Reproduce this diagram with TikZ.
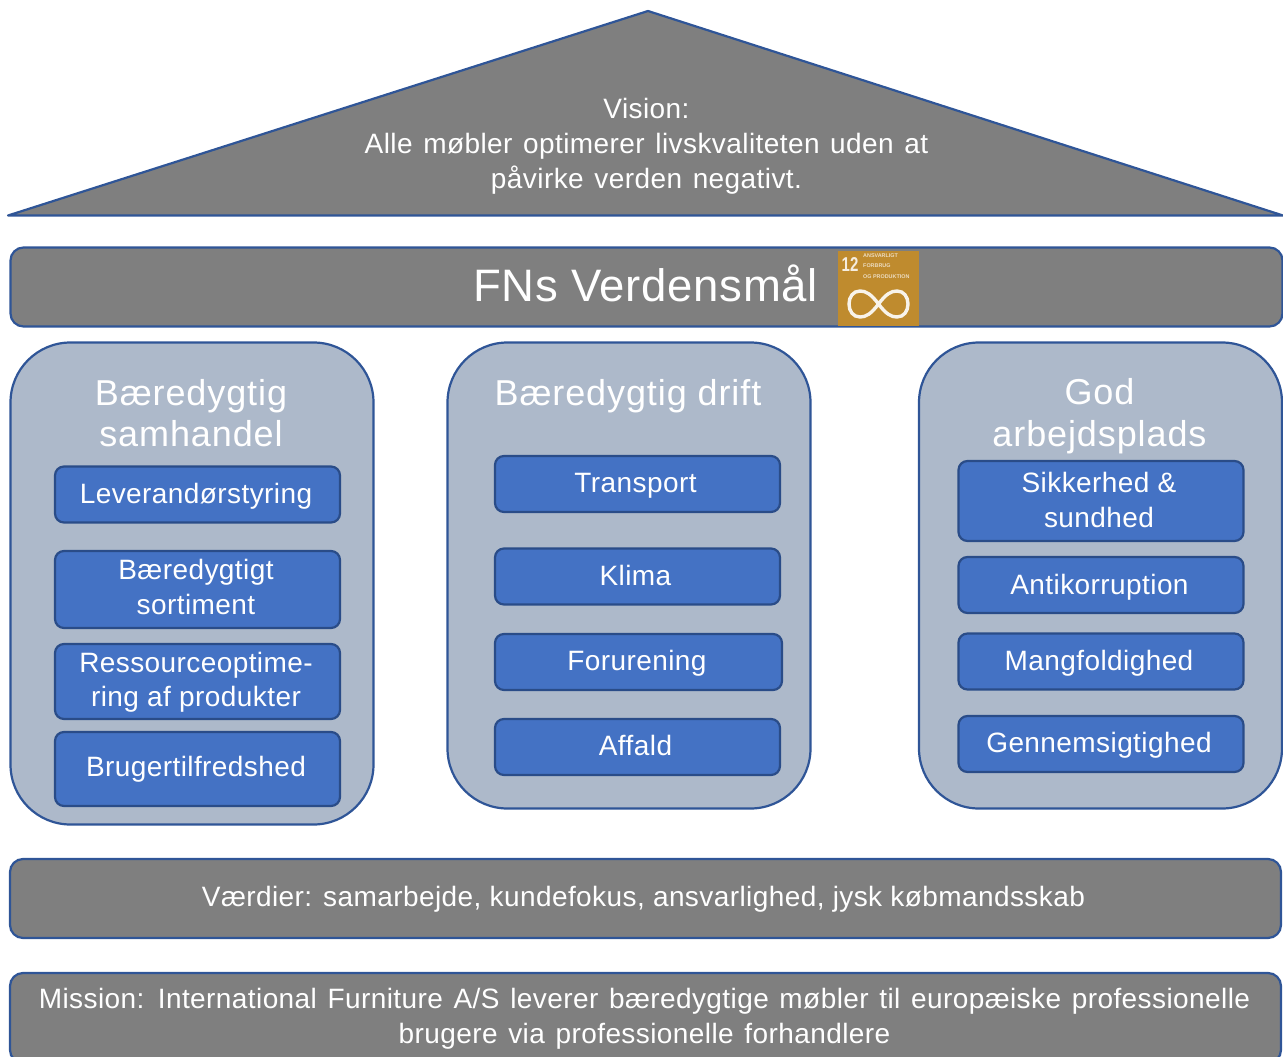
\documentclass[tikz,border=0pt]{standalone}
\usepackage{fontspec}
\setmainfont[LetterSpace=1.5]{Liberation Sans}
\newfontfamily\widefont[LetterSpace=1.5,WordSpace=1.3]{Liberation Sans}
\newfontfamily\titlefont[LetterSpace=2.5]{Liberation Sans}
\newfontfamily\plainfont{Liberation Sans}
\definecolor{edge}{HTML}{2F5597}
\definecolor{greyfill}{HTML}{7F7F7F}
\definecolor{panel}{HTML}{ADB9CA}
\definecolor{blue}{HTML}{4472C4}
\definecolor{goal}{HTML}{BF8B2E}
\tikzset{
  x=1pt,y=-1pt,
  base/.style={draw=edge,line width=2.2pt,inner sep=0pt,outer sep=0pt},
  bar/.style={base,fill=greyfill,rounded corners=13pt},
  panelbox/.style={base,fill=panel,rounded corners=60pt},
  item/.style={base,fill=blue,rounded corners=9pt,draw=edge!90!black},
  txt/.style={text=white,align=center,inner sep=0pt,font=\fontsize{28}{34.5}\selectfont},
  widetxt/.style={text=white,align=center,inner sep=0pt,font=\widefont\fontsize{28}{35}\selectfont},
  title/.style={text=white,align=center,inner sep=0pt,font=\titlefont\fontsize{36}{41.5}\selectfont},
}
\begin{document}
\begin{tikzpicture}
\useasboundingbox (0,0) rectangle (1283,1057);
% roof
\draw[edge,fill=greyfill,line width=2.2pt,line join=round] (8,215.5) -- (648,11) -- (1283,215.5) -- cycle;
\node[widetxt] (vision) at (646.5,146) {Vision:\\Alle møbler optimerer livskvaliteten uden at\\påvirke verden negativt.};
% FN bar
\node[bar,minimum width=1272pt,minimum height=79pt] (fn) at (646.5,287) {};
\node[txt,font=\fontsize{45.5}{50}\selectfont] (fntext) at (645.5,283.5) {FNs Verdensmål};
\node[fill=goal,minimum width=81pt,minimum height=75pt,inner sep=0pt] (goalbox) at (878.5,288.5) {};
\node[text=white,inner sep=0pt,font=\plainfont\bfseries\fontsize{20}{20}\selectfont,opacity=.85,xscale=.75] (goalnum) at (850,264.5) {12};
\node[text=white,inner sep=0pt,align=left,anchor=north west,font=\plainfont\bfseries\fontsize{5.4}{10.5}\selectfont,opacity=.7] (goaltext) at (863,253.5) {ANSVARLIGT\\FORBRUG\\OG PRODUKTION};
\draw[white,line width=3.4pt,opacity=.9]
  (878.5,304) .. controls (871,294) and (866,291) .. (860,291)
  .. controls (853,291) and (849,297) .. (849,304)
  .. controls (849,311) and (853,317) .. (860,317)
  .. controls (866,317) and (871,314) .. (878.5,304)
  .. controls (886,294) and (891,291) .. (897,291)
  .. controls (904,291) and (908,297) .. (908,304)
  .. controls (908,311) and (904,317) .. (897,317)
  .. controls (891,317) and (886,314) .. (878.5,304) -- cycle;
% panels
\node[panelbox,minimum width=363pt,minimum height=482pt] (p1) at (192,583.5) {};
\node[panelbox,minimum width=363pt,minimum height=466pt] (p2) at (629,575.5) {};
\node[panelbox,minimum width=363pt,minimum height=466pt] (p3) at (1100.5,575.5) {};
\node[title] (t1) at (191,413) {Bæredygtig\\samhandel};
\node[title] (t2) at (628,396.5) {Bæredygtig drift};
\node[title] (t3) at (1099.5,416) {God\\arbejdsplads};
% items, left
\node[item,minimum width=285pt,minimum height=56pt] (a1) at (197.5,494.5) {};
\node[txt] (a1t) at (196,496.5) {Leverandørstyring};
\node[item,minimum width=285pt,minimum height=77pt] (a2) at (197.5,589.5) {};
\node[txt] (a2t) at (196,587) {Bæredygtigt\\sortiment};
\node[item,minimum width=285pt,minimum height=75pt] (a3) at (197.5,681.5) {};
\node[txt] (a3t) at (196,682.5) {Ressourceoptime-\\ring af produkter};
\node[item,minimum width=285pt,minimum height=74pt] (a4) at (197.5,769) {};
\node[txt] (a4t) at (196,769) {Brugertilfredshed};
% items, middle
\node[item,minimum width=285pt,minimum height=56pt] (b1) at (637.5,484) {};
\node[txt] (b1t) at (635.5,486) {Transport};
\node[item,minimum width=285pt,minimum height=56pt] (b2) at (637.5,576.5) {};
\node[txt] (b2t) at (635.5,575.5) {Klima};
\node[item,minimum width=287pt,minimum height=56pt] (b3) at (638.5,662) {};
\node[txt] (b3t) at (637,663.5) {Forurening};
\node[item,minimum width=285pt,minimum height=56pt] (b4) at (637.5,747) {};
\node[txt] (b4t) at (635.5,745.5) {Affald};
% items, right
\node[item,minimum width=285pt,minimum height=80pt] (c1) at (1101,501) {};
\node[txt] (c1t) at (1099,500) {Sikkerhed \&\\sundhed};
\node[item,minimum width=285pt,minimum height=56pt] (c2) at (1101,585) {};
\node[txt] (c2t) at (1099.5,587) {Antikorruption};
\node[item,minimum width=285pt,minimum height=56pt] (c3) at (1101,661.5) {};
\node[txt] (c3t) at (1099,663.5) {Mangfoldighed};
\node[item,minimum width=285pt,minimum height=56pt] (c4) at (1101,744) {};
\node[txt] (c4t) at (1099,745.5) {Gennemsigtighed};
% bottom bars
\node[bar,minimum width=1271pt,minimum height=79pt] (values) at (645.5,898.5) {};
\node[txt] (valuest) at (643.5,899) {Værdier: samarbejde, kundefokus, ansvarlighed, jysk købmandsskab};
\node[bar,minimum width=1271pt,minimum height=90pt] (mission) at (645.5,1018) {};
\node[widetxt] (missiont) at (644.5,1018.5) {Mission: International Furniture A/S leverer bæredygtige møbler til europæiske professionelle\\brugere via professionelle forhandlere};
\end{tikzpicture}
\end{document}
